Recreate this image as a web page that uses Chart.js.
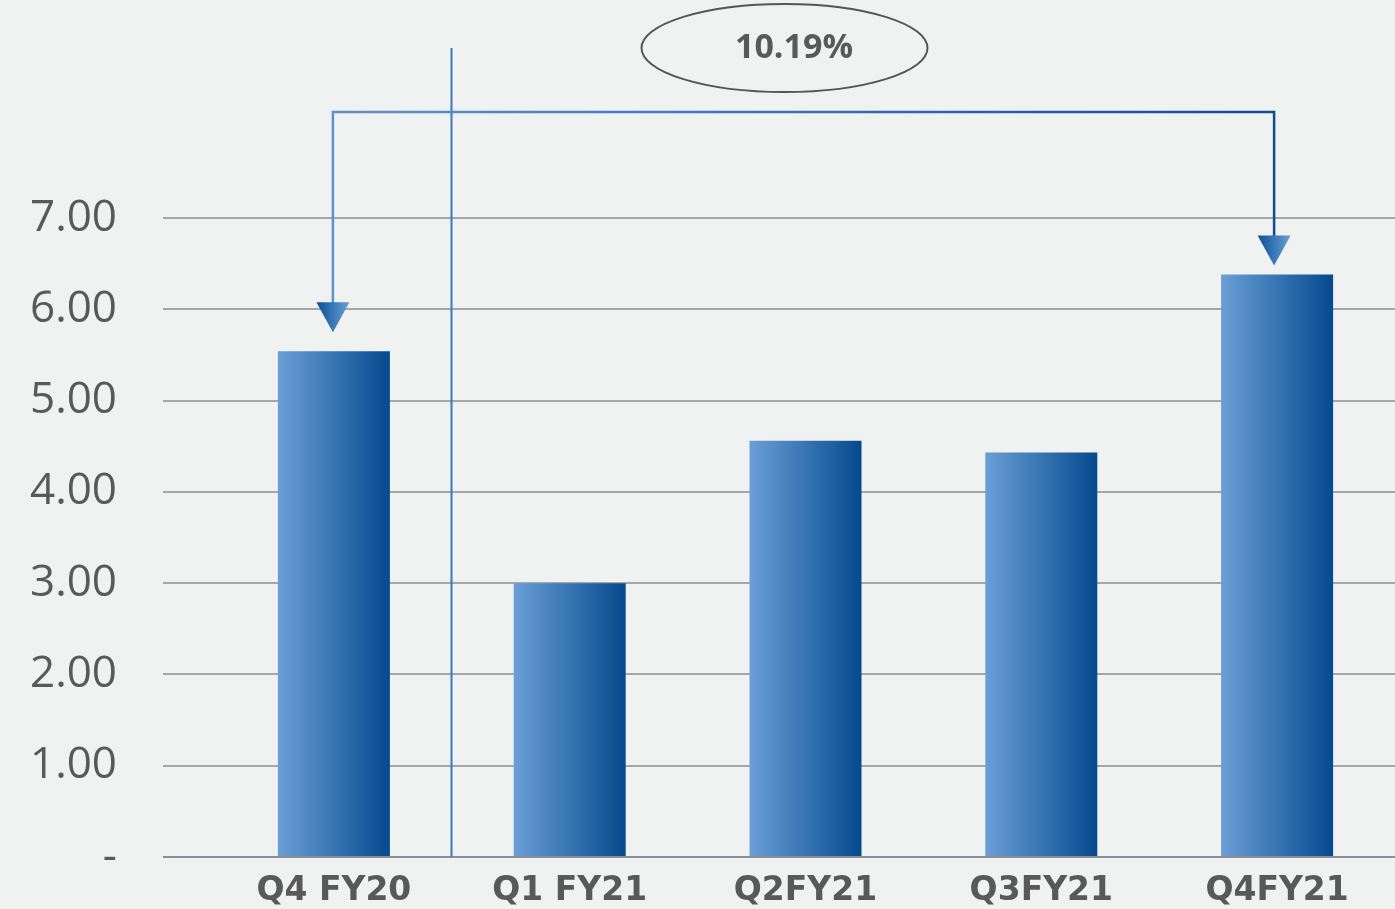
<!DOCTYPE html>
<html>
<head>
<meta charset="utf-8">
<script src="https://cdn.jsdelivr.net/npm/chart.js@4.4.1/dist/chart.umd.min.js"></script>
<style>
  html, body { margin: 0; padding: 0; background: #f0f2f2; }
  #wrap { width: 1395px; height: 909px; }
</style>
</head>
<body>
<div id="wrap"><canvas id="epsChart" width="1395" height="909"></canvas></div>
<script>
// Quarterly values
const quarters = ['Q4 FY20', 'Q1 FY21', 'Q2FY21', 'Q3FY21', 'Q4FY21'];
const values = [5.54, 3.00, 4.56, 4.43, 6.38];
const yTicks = [0, 1, 2, 3, 4, 5, 6, 7];
const growthLabel = '10.19%';

const FONT = "'Open Sans', sans-serif";
const TEXT_GREY = '#595959';

// horizontal gradient for the bars, light on the left, dark on the right
function barGradient(context) {
  const chart = context.chart;
  const { ctx, chartArea, scales } = chart;
  if (!chartArea || !scales.x) return '#3a78bd';
  const cx = scales.x.getPixelForValue(context.dataIndex);
  const half = (scales.x.width / quarters.length) * 0.475 / 2;
  const g = ctx.createLinearGradient(cx - half, 0, cx + half, 0);
  g.addColorStop(0, '#6a9fd6');
  g.addColorStop(1, '#044a8e');
  return g;
}

function drawArrow(ctx, x, tipY) {
  const w = 33, h = 30;
  const g = ctx.createLinearGradient(x - w / 2, 0, x + w / 2, 0);
  g.addColorStop(0, '#0b4f96');
  g.addColorStop(1, '#6a9fd6');
  ctx.fillStyle = g;
  ctx.beginPath();
  ctx.moveTo(x - w / 2, tipY - h);
  ctx.lineTo(x + w / 2, tipY - h);
  ctx.lineTo(x, tipY);
  ctx.closePath();
  ctx.fill();
}

// separator line, growth bracket and the ellipse label
const annotations = {
  id: 'annotations',
  afterDraw(chart) {
    const { ctx, chartArea, scales } = chart;
    const xs = scales.x, ys = scales.y;
    const last = values.length - 1;
    ctx.save();

    // vertical separator between Q4 FY20 and the FY21 quarters
    const sepX = Math.round((xs.getPixelForValue(0) + xs.getPixelForValue(1)) / 2) - 0.5;
    ctx.strokeStyle = '#3b79be';
    ctx.lineWidth = 2;
    ctx.beginPath();
    ctx.moveTo(sepX, 48);
    ctx.lineTo(sepX, chartArea.bottom);
    ctx.stroke();

    // bracket
    const x0 = xs.getPixelForValue(0) - 1;
    const x1 = xs.getPixelForValue(last) - 3;
    const topY = 112;
    const tip0 = ys.getPixelForValue(values[0]) - 19;
    const tip1 = ys.getPixelForValue(values[last]) - 9;
    const lg = ctx.createLinearGradient(x0, 0, x1, 0);
    lg.addColorStop(0, '#5b93d0');
    lg.addColorStop(1, '#0a4f95');
    ctx.strokeStyle = lg;
    ctx.lineWidth = 2.5;
    ctx.lineJoin = 'miter';
    ctx.beginPath();
    ctx.moveTo(x0, tip0 - 28);
    ctx.lineTo(x0, topY);
    ctx.lineTo(x1, topY);
    ctx.lineTo(x1, tip1 - 28);
    ctx.stroke();
    drawArrow(ctx, x0, tip0);
    drawArrow(ctx, x1, tip1);

    // ellipse with growth figure
    ctx.strokeStyle = '#555555';
    ctx.lineWidth = 2;
    ctx.beginPath();
    ctx.ellipse(784.5, 48, 143, 44, 0, 0, Math.PI * 2);
    ctx.stroke();
    ctx.fillStyle = TEXT_GREY;
    ctx.font = "bold 34px " + FONT;
    ctx.textAlign = 'center';
    ctx.textBaseline = 'middle';
    ctx.fillText(growthLabel, 794, 48);

    ctx.restore();
  }
};

const background = {
  id: 'background',
  beforeDraw(chart) {
    const { ctx, width, height } = chart;
    ctx.save();
    ctx.fillStyle = '#f0f2f2';
    ctx.fillRect(0, 0, width, height);
    ctx.restore();
  }
};

window.addEventListener('DOMContentLoaded', function () {
  const ctx = document.getElementById('epsChart');

  new Chart(ctx, {
    type: 'bar',
    data: {
      labels: quarters,
      datasets: [{
        data: values,
        backgroundColor: barGradient,
        borderWidth: 0,
        barPercentage: 0.475,
        categoryPercentage: 1,
      }],
    },
    options: {
      responsive: false,
      animation: false,
      layout: { padding: { top: 218, right: 0, bottom: 0, left: 0 } },
      plugins: {
        legend: { display: false },
        tooltip: { enabled: false },
      },
      scales: {
        x: {
          afterFit(scale) {
            scale.height = 52;
            scale.paddingLeft = 0;
            scale.paddingRight = 0;
          },
          grid: { display: false, drawTicks: false },
          border: { display: true, color: '#8a9096', width: 2 },
          ticks: {
            padding: 15,
            color: TEXT_GREY,
            font: { family: "'DejaVu Sans', sans-serif", size: 33, weight: 'bold' },
          },
        },
        y: {
          min: 0,
          max: 7,
          afterFit(scale) {
            scale.width = 216;
            scale.paddingTop = 0;
            scale.paddingBottom = 0;
          },
          afterBuildTicks(scale) {
            scale.ticks = yTicks.map(v => ({ value: v }));
          },
          border: { display: false },
          grid: {
            color: ctx => (ctx.tick && ctx.tick.value === 0 ? '#8a9096' : '#a3a7ab'),
            lineWidth: 2,
            drawTicks: true,
            tickLength: 53,
          },
          ticks: {
            padding: 46,
            color: TEXT_GREY,
            font: { family: FONT, size: 44 },
            callback: v => (v === 0 ? '-' : v.toFixed(2)),
          },
        },
      },
    },
    plugins: [background, annotations],
  });
});
</script>
</body>
</html>
